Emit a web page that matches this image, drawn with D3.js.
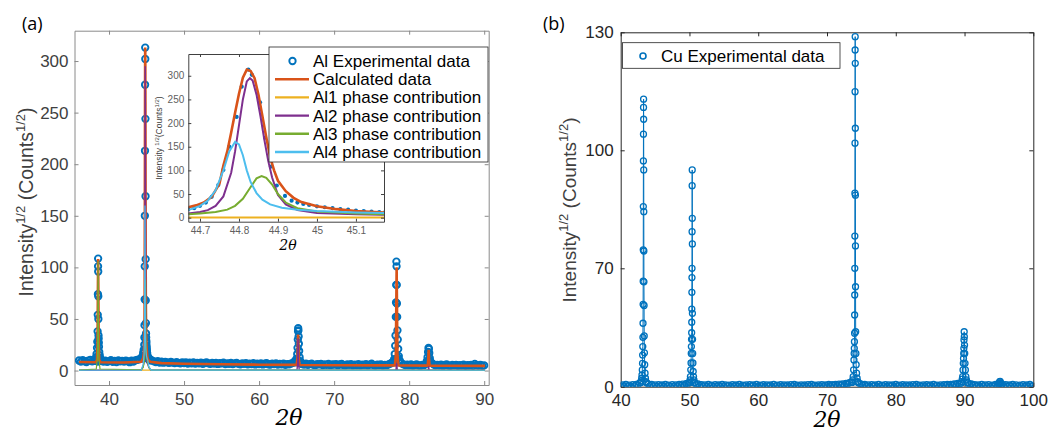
<!DOCTYPE html>
<html>
<head>
<meta charset="utf-8">
<script src="https://d3js.org/d3.v7.min.js"></script>
<style>
    body { margin:0; background:#fff; }
    svg { font-family:"Liberation Sans", Arial, sans-serif; }
    .axA path, .axA line { stroke:#8a8a8a; }
    .axA text { fill:#404040; font-size:17px; }
    .axB path, .axB line { stroke:#262626; }
    .axB text { fill:#262626; font-size:17px; }
    .axI path, .axI line { stroke:#404040; }
    .axI text { fill:#606060; font-size:10px; }
    .leg text { fill:#000; font-size:17px; }
</style>
</head>
<body>
<script>
// ---------- panel (a): Al ----------
// regular scan background, 36.00 .. 90.00 step 0.25
const alBgStart = 36.0, alBgStep = 0.25;
const alBgY = [
    9.8, 8.6, 10.1, 9.0, 8.3, 9.7, 10.4, 8.9,
    9.3, 10.2, 8.7, 9.5, 10.0, 8.8, 9.6, 8.4,
    9.1, 10.0, 8.5, 9.4, 8.2, 9.8, 8.9, 9.3,
    8.6, 9.7, 8.9, 8.1, 9.5, 8.8, 9.9, 10.3,
    10.8, 11.5, 12.0, 13.0, 14.5, 12.5, 10.9, 9.6,
    8.9, 8.2, 9.1, 7.8, 8.6, 7.6, 8.4, 7.9,
    7.4, 8.3, 7.7, 7.2, 8.1, 7.5, 6.9, 7.8,
    7.3, 7.9, 6.8, 7.6, 7.1, 7.9, 6.7, 7.4,
    7.0, 7.7, 6.6, 7.3, 7.8, 6.9, 6.5, 7.4,
    6.8, 7.5, 6.4, 7.1, 6.9, 7.6, 6.3, 7.0,
    6.6, 7.3, 6.2, 6.9, 7.4, 6.5, 6.1, 7.0,
    6.5, 7.2, 6.0, 6.8, 6.3, 7.1, 5.9, 6.6,
    6.3, 7.0, 5.9, 6.6, 7.1, 6.1, 5.8, 6.7,
    6.2, 6.9, 5.7, 6.4, 6.0, 6.8, 5.6, 6.3,
    6.1, 6.8, 7.4, 9.0, 11.5, 8.5, 6.9, 6.2,
    5.8, 6.6, 5.5, 6.2, 6.7, 5.6, 5.4, 6.3,
    5.9, 6.5, 5.3, 6.0, 5.6, 6.4, 5.2, 5.9,
    5.7, 6.3, 5.2, 5.9, 6.4, 5.4, 5.1, 6.0,
    5.6, 6.2, 5.1, 5.8, 5.4, 6.1, 5.0, 5.7,
    5.5, 6.1, 5.0, 5.7, 6.6, 5.3, 4.9, 5.8,
    5.4, 6.0, 4.9, 5.6, 5.2, 6.0, 6.8, 8.0,
    9.5, 11.0, 12.5, 9.0, 7.0, 6.0, 5.3, 5.8,
    5.2, 5.9, 4.8, 5.5, 6.0, 5.0, 4.7, 5.6,
    5.4, 6.5, 8.5, 9.5, 7.5, 6.0, 5.0, 5.6,
    5.1, 5.7, 4.7, 5.4, 5.9, 4.9, 4.6, 5.5,
    5.0, 5.6, 4.6, 5.3, 4.9, 5.7, 4.5, 5.2,
    4.9, 5.5, 4.5, 6.4, 5.2, 4.8, 5.6, 4.6,
    5.0
];
// peak points (outside the inset window)
const alPeakX = [38.20,38.28,38.34,38.40,38.44,38.48,38.50,38.52,38.54,38.55,38.56,38.57,38.58,38.60,38.62,38.64,38.66,38.70,38.76,38.84,38.92,
    44.35,44.45,44.55,44.62,45.25,45.35,45.45,
    64.90,65.00,65.08,65.12,65.16,65.19,65.21,65.24,65.27,65.30,65.34,65.40,65.50,
    77.90,78.00,78.08,78.14,78.18,78.22,78.25,78.28,78.30,78.32,78.34,78.37,78.40,78.44,78.48,78.54,78.62,78.72,
    82.35,82.45,82.52,82.58,82.63,82.68,82.75,82.85];
const alPeakY = [11,13,16,22,28,38,54,74,101,108.5,96,72,50,34,31,27,23,18,15,12,10,
    12,14,17,20,11,10.5,10,
    8,11,16,22,30,38,41,39,33,26,19,13,9,
    8,11,16,24,34,52,66,83,105.6,101,83,65,52,39,30,21,14,10,
    9,13,18,22,21,17,12,8];

// inset window 44.67 .. 45.17
const insetExpX = [44.670,44.685,44.700,44.715,44.730,44.747,44.760,44.775,44.794,44.807,44.824,44.833,44.854,44.867,44.882,44.897,44.918,44.935,44.950,44.965,44.980,45.000,45.020,45.040,45.060,45.080,45.100,45.120,45.140,45.160,45.175];
const insetExpY = [18,20,25,32,44,69,101,150,213,277,313,302,244,169,108,68,46,36,32,29,27,24,22,20,18,17,15,14,13,12,12];
const insetCalcX = [44.67,44.69,44.71,44.73,44.75,44.76,44.77,44.78,44.79,44.80,44.81,44.82,44.83,44.84,44.85,44.86,44.87,44.88,44.89,44.90,44.92,44.94,44.96,45.00,45.05,45.10,45.172];
const insetCalcY = [22,26,32,44,72,110,140,180,222,262,296,313,310,295,260,215,170,128,100,78,56,42,33,24,18,14,11];
const insetAl1X = [44.67,45.172];
const insetAl1Y = [0.5,0.5];
const insetAl2X = [44.67,44.70,44.72,44.74,44.76,44.78,44.79,44.80,44.81,44.82,44.828,44.835,44.845,44.855,44.865,44.875,44.885,44.90,44.92,44.95,45.00,45.10,45.172];
const insetAl2Y = [9,12,16,25,45,95,140,195,250,288,295,290,260,215,165,120,85,48,28,16,10,7,6];
const insetAl3X = [44.67,44.70,44.74,44.77,44.79,44.81,44.83,44.845,44.858,44.87,44.885,44.90,44.92,44.95,45.00,45.10,45.172];
const insetAl3Y = [7,9,12,17,25,40,65,83,88,84,70,50,32,20,13,9,7];
const insetAl4X = [44.67,44.70,44.72,44.74,44.76,44.775,44.79,44.80,44.81,44.82,44.83,44.845,44.86,44.88,44.91,44.95,45.00,45.10,45.172];
const insetAl4Y = [16,25,36,58,100,140,160,155,132,100,75,52,38,28,21,17,14,11,10];

// full-range curves outside the inset window
const calcMainX = [36.0,38.20,38.40,38.47,38.51,38.55,38.59,38.63,38.70,38.90,42.0,44.30,44.55,44.62,45.25,45.5,47,50,55,60,65.0,65.12,65.17,65.20,65.23,65.28,65.40,70,75,78.10,78.22,78.28,78.33,78.38,78.44,78.56,80,82.48,82.55,82.60,82.65,82.72,85,90.1];
const calcMainY = [8.3,8.1,10,25,70,108,70,25,10,8.0,7.8,8.5,12,16,10,8.5,7.2,6.6,6.1,5.7,5.5,12,28,35,28,12,5.4,5.2,5.0,5.0,15,60,100,60,15,5.0,4.9,4.8,12,20,12,4.8,4.7,4.5];
const al1MainX = [36.0,90.1];
const al1MainY = [0.3,0.3];
const al2MainX = [36.0,44.30,44.55,45.30,45.60,65.05,65.15,65.20,65.25,65.35,78.24,78.33,78.42,82.54,82.60,82.66,90.1];
const al2MainY = [0.3,0.4,4,3,0.4,0.4,8,31,8,0.4,0.4,7,0.4,0.4,4,0.4,0.3];
const al3MainX = [36.0,38.30,38.45,38.50,38.55,38.60,38.65,38.80,44.30,44.55,45.30,45.60,90.1];
const al3MainY = [0.5,1.5,12,40,106,40,12,1.5,0.6,3,3,0.5,0.3];
const al4MainX = [36.0,44.30,44.55,45.30,45.60,90.1];
const al4MainY = [0.3,0.5,6,4,0.5,0.3];

const alXTicks = [40,50,60,70,80,90];
const alYTicks = [0,50,100,150,200,250,300];
const insetXTicks = [44.7,44.8,44.9,45,45.1];
const insetYTicks = [0,50,100,150,200,250,300];
const legendA = ["Al Experimental data","Calculated data","Al1 phase contribution","Al2 phase contribution","Al3 phase contribution","Al4 phase contribution"];
const seriesColors = ["#0072BD","#D95319","#EDB120","#7E2F8E","#77AC30","#4DBEEE"];

// ---------- panel (b): Cu ----------
// regular scan background, 40.00 .. 100.00 step 0.25 (null where a peak is listed)
const cuBgStart = 40.0, cuBgStep = 0.25;
const cuBgY = [
    0.2, 1.1, 0.4, 1.3, 0.3, 0.9, 0.1, 1.2,
    0.5, 1.3, 1.0, 2.2, null, null, null, 2.4,
    1.6, 0.6, 1.3, 0.3, 1.1, 0.2, 1.2, 0.4,
    1.0, 0.2, 1.3, 0.5, 0.9, 0.1, 1.2, 0.3,
    1.1, 0.4, 1.3, 0.6, 1.5, 0.9, 1.8, 2.1,
    2.4, null, null, 2.2, 1.4, 1.6, 0.6, 1.2,
    0.3, 1.1, 0.2, 1.3, 0.5, 0.9, 0.1, 1.2,
    0.4, 1.0, 0.2, 1.3, 0.3, 1.1, 0.5, 0.9,
    0.1, 1.2, 0.4, 1.0, 0.2, 1.3, 0.3, 0.9,
    0.5, 1.1, 0.2, 1.2, 0.4, 1.0, 0.1, 1.3,
    0.3, 0.9, 0.5, 1.2, 0.2, 1.1, 0.4, 1.0,
    0.1, 1.3, 0.3, 0.9, 0.5, 1.2, 0.2, 1.1,
    0.4, 1.0, 0.1, 1.2, 0.3, 1.3, 0.5, 0.9,
    0.2, 1.1, 0.4, 1.0, 0.1, 1.2, 0.3, 1.3,
    0.5, 0.9, 0.2, 1.1, 0.4, 1.2, 0.3, 1.0,
    0.6, 1.3, 0.4, 1.2, 0.7, 1.4, 0.5, 1.5,
    0.9, 1.6, 1.1, 1.9, 1.6, 2.4, 2.6, null,
    null, null, 2.5, 1.8, 1.5, 0.8, 1.3, 0.4,
    1.1, 0.2, 1.2, 0.4, 1.0, 0.1, 1.3, 0.3,
    0.9, 0.5, 1.2, 0.2, 1.1, 0.4, 1.0, 0.1,
    1.3, 0.3, 0.9, 0.5, 1.2, 0.2, 1.1, 0.4,
    1.0, 0.1, 1.2, 0.3, 1.3, 0.5, 0.9, 0.2,
    1.1, 0.4, 1.2, 0.3, 1.0, 0.1, 1.3, 0.5,
    0.9, 0.2, 1.1, 0.4, 1.2, 0.6, 1.3, 0.8,
    1.4, 0.9, 1.6, 1.2, 1.9, 1.6, null, null,
    null, null, 2.1, 1.5, 1.6, 0.8, 1.2, 0.4,
    1.0, 0.2, 1.3, 0.3, 1.1, 0.5, 1.2, 0.1,
    0.9, 0.4, 1.3, 1.1, null, null, 1.4, 0.6,
    1.2, 0.2, 1.0, 0.4, 1.3, 0.1, 1.1, 0.3,
    0.9, 0.5, 1.2, 0.2, 1.0, 0.4, 1.3, 0.3,
    0.8
];
const cuPeakX = [
    42.95,43.00,43.05,43.10,43.14,43.17,43.19,43.21,43.23,43.245,43.26,43.27,43.28,43.29,43.30,43.31,43.32,43.33,
    43.34,43.35,43.36,43.37,43.38,43.40,43.42,43.45,43.49,43.54,43.60,43.68,
    50.03,50.09,50.14,50.19,50.23,50.26,50.28,50.30,50.32,50.33,50.34,50.35,50.36,50.37,50.38,50.39,50.40,
    50.41,50.42,50.43,50.45,50.47,50.50,50.54,50.59,50.65,50.73,
    73.66,73.74,73.81,73.87,73.92,73.95,73.97,73.99,74.01,74.02,74.03,74.04,74.05,74.06,74.07,74.08,74.09,74.10,
    74.11,74.12,74.13,74.14,74.15,74.17,74.20,74.24,74.30,74.38,74.48,
    89.50,89.60,89.67,89.73,89.78,89.82,89.85,89.88,89.90,89.92,89.95,
    89.97,90.00,90.03,90.07,90.12,90.19,90.28,90.40,
    94.95,95.05,95.12,95.18,95.25,95.35];
const cuPeakY = [
    2.5,3.5,5,7,9.9,13.8,18.7,23.7,29.2,37.5,48.7,62.4,74.7,85.7,97.3,104.1,110.9,113.0,
    107.9,95.0,84.4,74.4,62,48,30,20,13,8,5,3,
    2.5,4,6,10,14,19.7,23.7,28,31.9,38.1,45.9,55.8,64.5,70,79.3,91.0,95.0,
    82.7,76.2,43.4,28,19.7,14,9,6,4,2.5,
    2.5,4,6,10,15.8,19.7,22.7,26.6,31.6,42.4,54.2,70,78.2,89.1,101.8,114.9,125.5,128.9,
    122.1,105.6,88.6,75.7,59.1,32.5,19.7,13,8,5,3,
    2,3,4.5,6,9.9,13.8,16.7,19.7,22.7,27.6,32.5,
    29.6,24.6,19.7,13.8,9.9,6,4,2.5,
    1.5,2.2,3,3.1,2.2,1.3];
const cuXTicks = [40,50,60,70,80,90,100];
const cuYTicks = [0,70,100,130];
const legendB = ["Cu Experimental data"];

// ---------- drawing ----------
const svg = d3.select("body").append("svg")
    .attr("width", 1048)
    .attr("height", 428);

const serif = "'DejaVu Serif', 'Liberation Serif', serif";

function boxAxes(cls, x, y, xt, yt, tick, padX, padY) {
    let [x0, x1] = x.range(), r = y.range(), y1 = r[0], y0 = r[r.length - 1];
    let g = svg.append("g").attr("class", cls);
    g.append("g").attr("transform", "translate(0," + y1 + ")")
        .call(d3.axisBottom(x).tickValues(xt).tickSizeInner(-tick).tickSizeOuter(0).tickPadding(padX).tickFormat(d => String(d)));
    g.append("g").attr("transform", "translate(0," + y0 + ")")
        .call(d3.axisTop(x).tickValues(xt).tickSizeInner(-tick).tickSizeOuter(0).tickFormat(""));
    g.append("g").attr("transform", "translate(" + x0 + ",0)")
        .call(d3.axisLeft(y).tickValues(yt).tickSizeInner(-tick).tickSizeOuter(0).tickPadding(padY).tickFormat(d => String(d)));
    g.append("g").attr("transform", "translate(" + x1 + ",0)")
        .call(d3.axisRight(y).tickValues(yt).tickSizeInner(-tick).tickSizeOuter(0).tickFormat(""));
    return g;
}

function clip(id, x, y) {
    let [x0, x1] = x.range(), r = y.range();
    svg.append("clipPath").attr("id", id).append("rect")
        .attr("x", x0).attr("y", r[r.length - 1])
        .attr("width", x1 - x0).attr("height", r[0] - r[r.length - 1]);
}

function pairs(xs, ys) { return d3.zip(xs, ys); }
function sorted(a) { return a.slice().sort((p, q) => p[0] - q[0]); }

function yLabel(x, y, size, sup) {
    let t = svg.append("text").attr("transform", "translate(" + x + "," + y + ") rotate(-90)")
        .attr("text-anchor", "middle").style("font-size", size + "px").attr("fill", "#404040");
    t.append("tspan").text("Intensity");
    t.append("tspan").attr("dy", -size * 0.4).style("font-size", sup + "px").text("1/2");
    t.append("tspan").attr("dy", size * 0.4).text(" (Counts");
    t.append("tspan").attr("dy", -size * 0.4).style("font-size", sup + "px").text("1/2");
    t.append("tspan").attr("dy", size * 0.4).text(")");
}

// panel (a) main axes
const xA = d3.scaleLinear().domain([35.4, 90.6]).range([74.5, 488.7]);
const yA = d3.scaleLinear().domain([-14, 329.4]).range([385, 30.7]);
boxAxes("axA", xA, yA, alXTicks, alYTicks, 4, 8, 6);
clip("clipA", xA, yA);

const alExp = alBgY.map((v, i) => [alBgStart + i * alBgStep, v])
    .concat(pairs(alPeakX, alPeakY), pairs(insetExpX, insetExpY));
const gA = svg.append("g").attr("clip-path", "url(#clipA)");
gA.selectAll("circle").data(alExp).join("circle")
    .attr("cx", d => xA(d[0])).attr("cy", d => yA(d[1])).attr("r", 3.2)
    .attr("fill", "none").attr("stroke", seriesColors[0]).attr("stroke-width", 1.9);

const lineA = d3.line().x(d => xA(d[0])).y(d => yA(d[1]));
const mainCurves = [
    [calcMainX, calcMainY, insetCalcX, insetCalcY, 2.6],
    [al1MainX, al1MainY, insetAl1X, insetAl1Y, 1.2],
    [al2MainX, al2MainY, insetAl2X, insetAl2Y, 1.4],
    [al3MainX, al3MainY, insetAl3X, insetAl3Y, 1.2],
    [al4MainX, al4MainY, insetAl4X, insetAl4Y, 1.2]
];
mainCurves.forEach((c, i) => {
    gA.append("path")
        .attr("d", lineA(sorted(pairs(c[0], c[1]).concat(pairs(c[2], c[3])))))
        .attr("fill", "none").attr("stroke", seriesColors[i + 1]).attr("stroke-width", c[4]);
});

// inset
const xI = d3.scaleLinear().domain([44.67, 45.172]).range([188.3, 384]);
const yI = d3.scaleLinear().domain([-8.5, 346]).range([221.7, 54]);
svg.append("rect").attr("x", 188.3).attr("y", 54).attr("width", 384 - 188.3).attr("height", 221.7 - 54).attr("fill", "#fff");
clip("clipI", xI, yI);
const gI = svg.append("g").attr("clip-path", "url(#clipI)");
gI.selectAll("circle").data(pairs(insetExpX, insetExpY)).join("circle")
    .attr("cx", d => xI(d[0])).attr("cy", d => yI(d[1])).attr("r", 2.1)
    .attr("fill", seriesColors[0]);
const lineI = d3.line().x(d => xI(d[0])).y(d => yI(d[1]));
[[insetCalcX, insetCalcY, 2.6], [insetAl1X, insetAl1Y, 2], [insetAl2X, insetAl2Y, 2],
 [insetAl3X, insetAl3Y, 2], [insetAl4X, insetAl4Y, 2]].forEach((c, i) => {
    gI.append("path").attr("d", lineI(pairs(c[0], c[1])))
        .attr("fill", "none").attr("stroke", seriesColors[i + 1]).attr("stroke-width", c[2]);
});
boxAxes("axI", xI, yI, insetXTicks, insetYTicks, 3, 5, 4);

svg.append("text").attr("x", 288).attr("y", 250).attr("text-anchor", "middle")
    .style("font-family", serif).style("font-style", "italic").style("font-size", "14px")
    .text("2θ");
let il = svg.append("text").attr("transform", "translate(162,138) rotate(-90)")
    .attr("text-anchor", "middle").style("font-size", "8.5px").attr("fill", "#404040");
il.append("tspan").text("Intensity ");
il.append("tspan").attr("dy", -3).style("font-size", "6px").text("1/2");
il.append("tspan").attr("dy", 3).text("(Counts");
il.append("tspan").attr("dy", -3).style("font-size", "6px").text("1/2");
il.append("tspan").attr("dy", 3).text(")");

// legend (a)
const legA = svg.append("g").attr("class", "leg");
legA.append("rect").attr("x", 269).attr("y", 47).attr("width", 219).attr("height", 115)
    .attr("fill", "#fff").attr("stroke", "#262626").attr("stroke-width", 0.8);
legendA.forEach((t, i) => {
    let cy = 61 + i * 18.2;
    if (i === 0) {
        legA.append("circle").attr("cx", 292.5).attr("cy", cy).attr("r", 3.2)
            .attr("fill", "none").attr("stroke", seriesColors[0]).attr("stroke-width", 1.9);
    } else {
        legA.append("line").attr("x1", 275).attr("x2", 309).attr("y1", cy).attr("y2", cy)
            .attr("stroke", seriesColors[i]).attr("stroke-width", 2.4);
    }
    legA.append("text").attr("x", 313).attr("y", cy + 6).text(t);
});

// panel (a) labels
svg.append("text").attr("x", 22).attr("y", 30).style("font-family", "'Open Sans', sans-serif")
    .style("font-size", "18px").text("(a)");
yLabel(33, 202, 19.5, 13);
svg.append("text").attr("x", 289).attr("y", 425).attr("text-anchor", "middle")
    .style("font-family", serif).style("font-style", "italic").style("font-size", "22px")
    .text("2θ");

// panel (b)
const xB = d3.scaleLinear().domain([40, 100]).range([620.7, 1033.3]);
const yB = d3.scaleLinear().domain([0, 70, 130]).range([386.7, 268.3, 32.3]);
boxAxes("axB", xB, yB, cuXTicks, cuYTicks, 4, 7, 7);
clip("clipB", xB, yB);

const cuExp = sorted(cuBgY.map((v, i) => [cuBgStart + i * cuBgStep, v])
    .filter(d => d[1] !== null)
    .concat(pairs(cuPeakX, cuPeakY)));
const gB = svg.append("g").attr("clip-path", "url(#clipB)");
gB.append("path")
    .attr("d", d3.line().x(d => xB(d[0])).y(d => yB(d[1]))(cuExp))
    .attr("fill", "none").attr("stroke", seriesColors[0]).attr("stroke-width", 1);
gB.selectAll("circle").data(cuExp).join("circle")
    .attr("cx", d => xB(d[0])).attr("cy", d => yB(d[1])).attr("r", 3)
    .attr("fill", "none").attr("stroke", seriesColors[0]).attr("stroke-width", 1.3);

const legB = svg.append("g").attr("class", "leg");
legB.append("rect").attr("x", 622.5).attr("y", 42.7).attr("width", 217.5).attr("height", 25.6)
    .attr("fill", "#fff").attr("stroke", "#262626").attr("stroke-width", 0.8);
legB.append("circle").attr("cx", 643).attr("cy", 56).attr("r", 3)
    .attr("fill", "none").attr("stroke", seriesColors[0]).attr("stroke-width", 1.6);
legB.append("text").attr("x", 661).attr("y", 62).text(legendB[0]);

svg.append("text").attr("x", 543).attr("y", 30).style("font-family", "'Open Sans', sans-serif")
    .style("font-size", "18px").text("(b)");
yLabel(576, 210, 19, 13);
svg.append("text").attr("x", 827).attr("y", 427).attr("text-anchor", "middle")
    .style("font-family", serif).style("font-style", "italic").style("font-size", "22px")
    .text("2θ");
</script>
</body>
</html>
